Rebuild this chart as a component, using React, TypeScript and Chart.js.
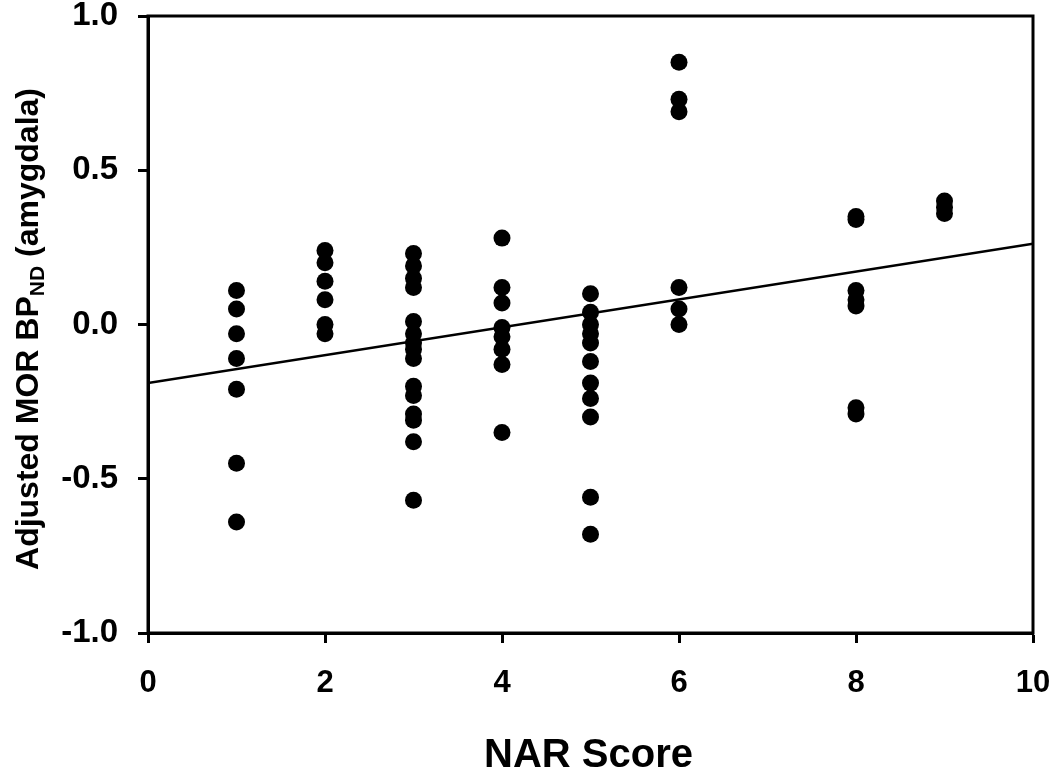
import React, { useEffect, useRef } from "react";
import { Chart, registerables } from "chart.js";

Chart.register(...registerables);

// NAR score groups and adjusted MOR BPND (amygdala) values
const nar1 = [0.11, 0.05, -0.03, -0.11, -0.21, -0.45, -0.64];
const nar2 = [0.24, 0.2, 0.14, 0.08, 0.0, -0.03];
const nar3 = [0.23, 0.19, 0.15, 0.12, 0.01, -0.03, -0.06, -0.08, -0.11, -0.2, -0.23, -0.29, -0.31, -0.38, -0.57];
const nar4 = [0.28, 0.12, 0.07, -0.01, -0.04, -0.08, -0.13, -0.35];
const nar5 = [0.1, 0.04, 0.0, -0.03, -0.06, -0.12, -0.19, -0.24, -0.3, -0.56, -0.68];
const nar6 = [0.85, 0.73, 0.69, 0.12, 0.05, 0.0];
const nar8 = [0.35, 0.34, 0.11, 0.08, 0.06, -0.27, -0.29];
const nar9 = [0.4, 0.38, 0.36];

const groupScores = [1, 2, 3, 4, 5, 6, 8, 9];
const groupValues = [nar1, nar2, nar3, nar4, nar5, nar6, nar8, nar9];

// regression line endpoints
const fitX = [0, 10];
const fitY = [-0.19, 0.262];

const xTicks = [0, 2, 4, 6, 8, 10];
const yTicks = [-1.0, -0.5, 0.0, 0.5, 1.0];

const xTitle = "NAR Score";
const yTitleMain = "Adjusted MOR BP";
const yTitleSub = "ND";
const yTitleEnd = " (amygdala)";

const FONT = "'Liberation Sans', Arial, Helvetica, sans-serif";

export default function App() {
  const ref = useRef<HTMLCanvasElement>(null);

  useEffect(() => {
    if (!ref.current) return;
    const scatter: { x: number; y: number }[] = [];
    groupScores.forEach((s, i) => groupValues[i].forEach((v) => scatter.push({ x: s, y: v })));
    const fit = fitX.map((x, i) => ({ x, y: fitY[i] }));

    const framePlugin = {
      id: "frame",
      afterDatasetsDraw(chart: any) {
        const { ctx, chartArea } = chart;
        ctx.save();
        ctx.strokeStyle = "#000";
        ctx.lineWidth = 3;
        ctx.strokeRect(chartArea.left, chartArea.top, chartArea.right - chartArea.left, chartArea.bottom - chartArea.top);
        ctx.restore();
      },
      afterDraw(chart: any) {
        const { ctx, chartArea } = chart;
        ctx.save();
        ctx.fillStyle = "#000";
        // x title
        ctx.font = `bold 40px ${FONT}`;
        ctx.textAlign = "center";
        ctx.textBaseline = "middle";
        ctx.fillText(xTitle, (chartArea.left + chartArea.right) / 2 - 2, 756);
        // y title with subscript
        ctx.translate(29, 329);
        ctx.rotate(-Math.PI / 2);
        const mainFont = `bold 32px ${FONT}`;
        const subFont = `bold 21px ${FONT}`;
        ctx.font = mainFont;
        const w1 = ctx.measureText(yTitleMain).width;
        const w3 = ctx.measureText(yTitleEnd).width;
        ctx.font = subFont;
        const w2 = ctx.measureText(yTitleSub).width;
        let x = -(w1 + w2 + w3) / 2;
        ctx.textAlign = "left";
        ctx.textBaseline = "middle";
        ctx.font = mainFont;
        ctx.fillText(yTitleMain, x, 0);
        x += w1;
        ctx.font = subFont;
        ctx.fillText(yTitleSub, x, 9);
        x += w2;
        ctx.font = mainFont;
        ctx.fillText(yTitleEnd, x, 0);
        ctx.restore();
      },
    };

    const chart = new Chart(ref.current, {
      type: "scatter",
      data: {
        datasets: [
          {
            type: "line",
            data: fit,
            borderColor: "#000",
            borderWidth: 2.5,
            pointRadius: 0,
            fill: false,
          } as any,
          {
            data: scatter,
            backgroundColor: "#000",
            borderWidth: 0,
            pointRadius: 8.5,
          },
        ],
      },
      options: {
        animation: false,
        responsive: false,
        layout: { padding: { left: 0, top: 16, right: 17, bottom: 0 } },
        plugins: { legend: { display: false }, tooltip: { enabled: false } },
        scales: {
          x: {
            type: "linear",
            min: 0,
            max: 10,
            afterBuildTicks: (s: any) => {
              s.ticks = xTicks.map((v) => ({ value: v }));
            },
            afterFit: (s: any) => {
              s.height = 144;
              s.paddingLeft = 0;
              s.paddingRight = 0;
              s.paddingTop = 0;
              s.paddingBottom = 0;
            },
            ticks: {
              color: "#000",
              font: { family: FONT, size: 31, weight: "bold" },
              padding: 22,
              maxRotation: 0,
              callback: (v: any) => String(v),
            },
            grid: { drawOnChartArea: false, drawTicks: true, tickLength: 10, tickWidth: 3, tickColor: "#000" },
            border: { display: true, color: "#000", width: 3 },
          },
          y: {
            type: "linear",
            min: -1,
            max: 1,
            afterBuildTicks: (s: any) => {
              s.ticks = yTicks.map((v) => ({ value: v }));
            },
            afterFit: (s: any) => {
              s.width = 148;
              s.paddingLeft = 0;
              s.paddingRight = 0;
              s.paddingTop = 0;
              s.paddingBottom = 0;
            },
            ticks: {
              color: "#000",
              font: { family: FONT, size: 33, weight: "bold" },
              padding: 20,
              callback: (v: any) => Number(v).toFixed(1),
            },
            grid: { drawOnChartArea: false, drawTicks: true, tickLength: 10, tickWidth: 3, tickColor: "#000" },
            border: { display: true, color: "#000", width: 3 },
          },
        },
      },
      plugins: [framePlugin],
    });
    return () => chart.destroy();
  }, []);

  return (
    <div style={{ position: "fixed", left: 0, top: 0, width: 1050, height: 777, background: "#fff" }}>
      <canvas ref={ref} width={1050} height={777} style={{ display: "block" }} />
    </div>
  );
}
